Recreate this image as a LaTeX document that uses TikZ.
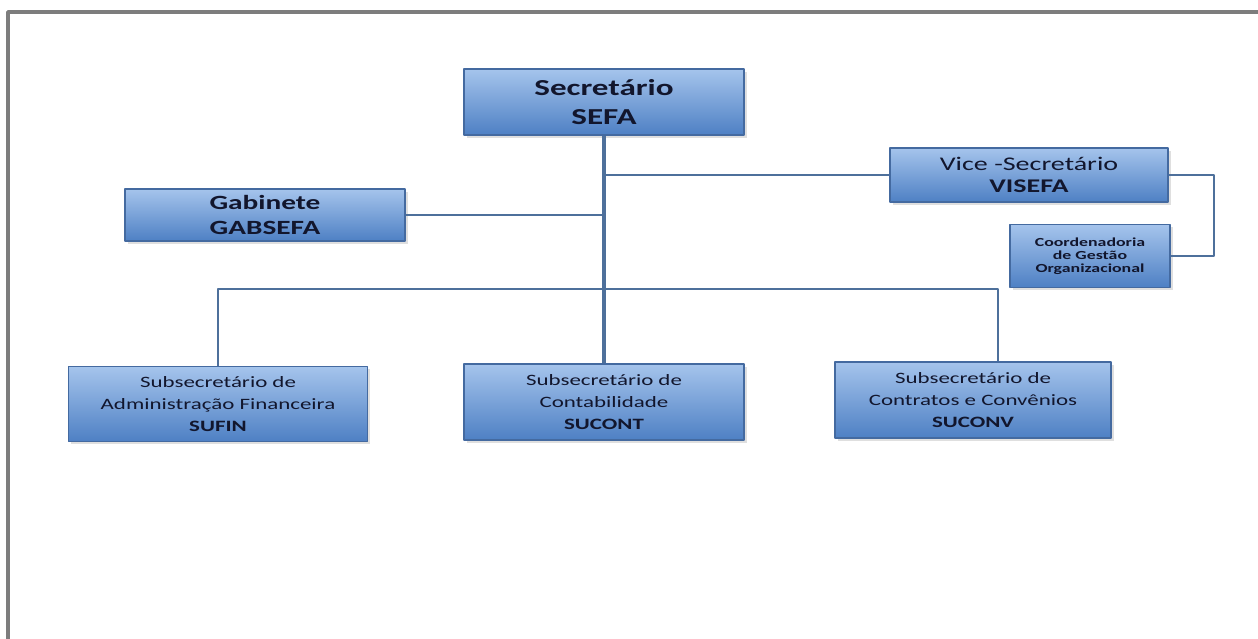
\documentclass[tikz,border=0pt]{standalone}
\usepackage{fontspec}
\setmainfont{Carlito}[FakeStretch=1.45]
\usetikzlibrary{positioning,calc,shadows}
\definecolor{boxtop}{RGB}{165,196,236}
\definecolor{boxbot}{RGB}{78,128,196}
\definecolor{boxline}{RGB}{68,106,160}
\definecolor{linkcol}{RGB}{78,112,155}
\definecolor{framecol}{RGB}{125,125,125}
\definecolor{inkcol}{RGB}{18,22,45}

\begin{document}
\begin{tikzpicture}[x=0.02cm, y=-0.02cm, line join=round,
  unit/.style={draw=boxline, line width=0.8pt, top color=boxtop, bottom color=boxbot,
    text=inkcol, align=center, inner sep=1pt,
    drop shadow={shadow xshift=1.5pt, shadow yshift=-1.5pt, opacity=0.25}},
  link/.style={draw=linkcol, line width=1.2pt},
  trunk/.style={draw=linkcol, line width=1.8pt}]
\useasboundingbox (0,0) rectangle (1258,639);
\draw[framecol, line width=2pt] (8,639) -- (8,12) -- (1258,12);
% boxes
\node[unit, minimum width=5.6cm,  minimum height=1.32cm, font=\fontsize{13}{17}\selectfont\bfseries]   (sec)    at (604,102)  {Secretário\\SEFA};
\node[unit, minimum width=5.56cm, minimum height=1.08cm, font=\fontsize{11}{12.5}\selectfont]          (vice)   at (1029,175) {Vice -Secretário\\\textbf{VISEFA}};
\node[unit, minimum width=5.6cm,  minimum height=1.04cm, font=\fontsize{11.5}{14}\selectfont\bfseries] (gab)    at (265,215)  {Gabinete\\GABSEFA};
\node[unit, minimum width=3.2cm,  minimum height=1.26cm, font=\fontsize{7}{7.4}\selectfont\bfseries]   (coord)  at (1090,256) {Coordenadoria\\de Gestão\\Organizacional};
\node[unit, minimum width=5.98cm, minimum height=1.5cm,  font=\fontsize{9}{12.3}\selectfont]           (sufin)  at (218,404)  {Subsecretário de\\Administração Financeira\\\textbf{SUFIN}};
\node[unit, minimum width=5.6cm,  minimum height=1.52cm, font=\fontsize{9}{12.3}\selectfont]           (sucont) at (604,402)  {Subsecretário de\\Contabilidade\\\textbf{SUCONT}};
\node[unit, minimum width=5.52cm, minimum height=1.52cm, font=\fontsize{9}{12.3}\selectfont]           (suconv) at (973,400)  {Subsecretário de\\Contratos e Convênios\\\textbf{SUCONV}};
% connectors
\coordinate (busR) at (998,289);
\draw[trunk] (sec.south) -- (sucont.north);
\draw[link] (sec.south |- vice.west) -- (vice.west);
\draw[link] (gab.east) -- (gab.east -| sec.south);
\draw[link] (vice.east) -- ++(45,0) |- (coord.east);
\draw[link] (sufin.north) |- (busR) -- (busR |- suconv.north);
\end{tikzpicture}
\end{document}
